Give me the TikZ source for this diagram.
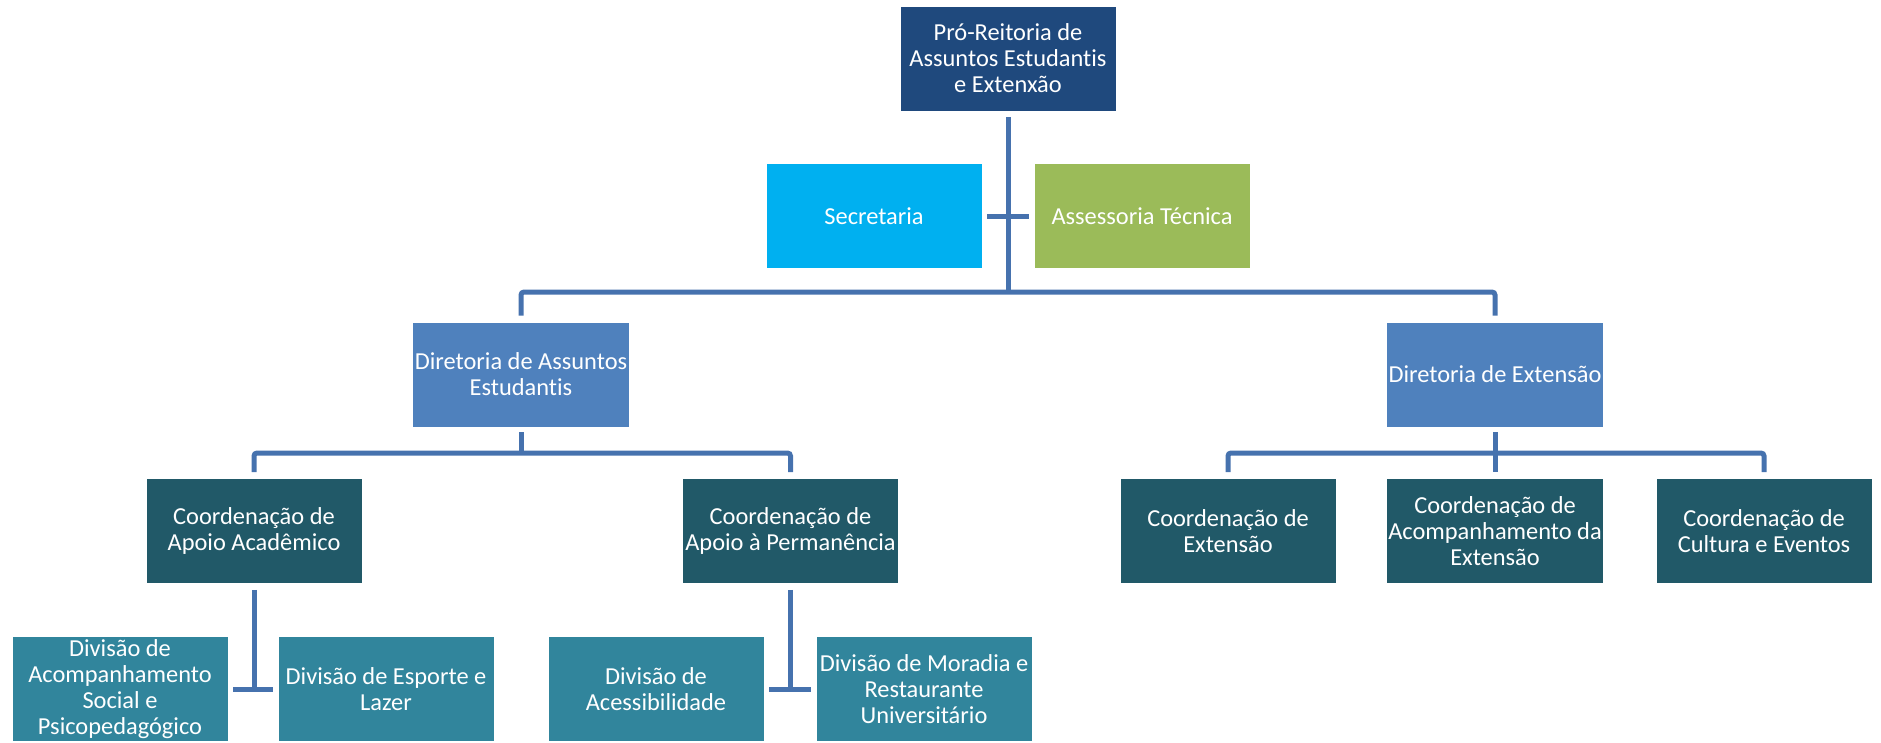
\documentclass[tikz,border=0pt]{standalone}
\usepackage{fontspec}
\setmainfont{Carlito}[Ligatures=NoCommon]
\definecolor{cTop}{HTML}{1F497D}
\definecolor{cSec}{HTML}{00B0F0}
\definecolor{cAss}{HTML}{9BBB59}
\definecolor{cDir}{HTML}{4F81BD}
\definecolor{cCoord}{HTML}{215968}
\definecolor{cDiv}{HTML}{31859C}
\definecolor{cLine}{HTML}{4672AE}
\tikzset{
  box/.style={rectangle, minimum width=216pt, minimum height=105pt, inner sep=2pt,
    align=center, text=white, draw=white, line width=0.8pt,
    font=\fontsize{24.4}{26}\selectfont},
  topbox/.style={box, fill=cTop},
  secbox/.style={box, fill=cSec},
  assbox/.style={box, fill=cAss},
  dirbox/.style={box, fill=cDir},
  coordbox/.style={box, fill=cCoord},
  divbox/.style={box, fill=cDiv},
  conn/.style={draw=cLine, line width=5pt, rounded corners=3pt},
  gap/.style={shorten <=6pt, shorten >=6pt}
}
\begin{document}
\begin{tikzpicture}[x=1pt,y=-1pt]
\useasboundingbox (0,0) rectangle (1881,742);
% nodes
\node[topbox] (pro) at (1008,58.5) {Pró-Reitoria de\\Assuntos Estudantis\\e Extenxão};
\node[secbox] (sec) at (874,216) {Secretaria};
\node[assbox] (ass) at (1142,216) {Assessoria Técnica};
\node[dirbox] (dae) at (521,374.5) {Diretoria de Assuntos\\Estudantis};
\node[dirbox] (dex) at (1495,374.5) {Diretoria de Extensão};
\node[coordbox] (caa) at (254,531) {Coordenação de\\Apoio Acadêmico};
\node[coordbox] (cap) at (790.5,531) {Coordenação de\\Apoio à Permanência};
\node[coordbox] (cext) at (1228,531) {Coordenação de\\Extensão};
\node[coordbox] (cacomp) at (1495,531) {Coordenação de\\Acompanhamento da\\Extensão};
\node[coordbox] (ccult) at (1764,531) {Coordenação de\\Cultura e Eventos};
\node[divbox] (dacs) at (120,689) {Divisão de\\Acompanhamento\\Social e\\Psicopedagógico};
\node[divbox] (dese) at (386,689) {Divisão de Esporte e\\Lazer};
\node[divbox] (dacess) at (656,689) {Divisão de\\Acessibilidade};
\node[divbox] (dmor) at (924,689) {Divisão de Moradia e\\Restaurante\\Universitário};
% bus coordinates
\coordinate (b1) at (0,292);
\coordinate (b2) at (0,453);
% connectors
\draw[conn, shorten <=6pt] (pro.south) -- (pro.south |- b1);
\draw[conn, shorten <=5pt, shorten >=5pt] (sec.east) -- (ass.west);
\draw[conn, gap] (dae.north) -- (dae.north |- b1) -- (dex.north |- b1) -- (dex.north);
\draw[conn, shorten <=5pt] (dae.south) -- (dae.south |- b2);
\draw[conn, gap] (caa.north) -- (caa.north |- b2) -- (cap.north |- b2) -- (cap.north);
\draw[conn, shorten <=5pt] (dex.south) -- (dex.south |- b2);
\draw[conn, gap] (cext.north) -- (cext.north |- b2) -- (ccult.north |- b2) -- (ccult.north);
\draw[conn, shorten >=6pt] (cacomp.north |- b2) -- (cacomp.north);
\draw[conn, shorten <=6pt] (caa.south) -- (caa.south |- dacs.east);
\draw[conn, shorten <=5pt, shorten >=5pt] (dacs.east) -- (dese.west);
\draw[conn, shorten <=6pt] (cap.south) -- (cap.south |- dacess.east);
\draw[conn, shorten <=5pt, shorten >=5pt] (dacess.east) -- (dmor.west);
\end{tikzpicture}
\end{document}
